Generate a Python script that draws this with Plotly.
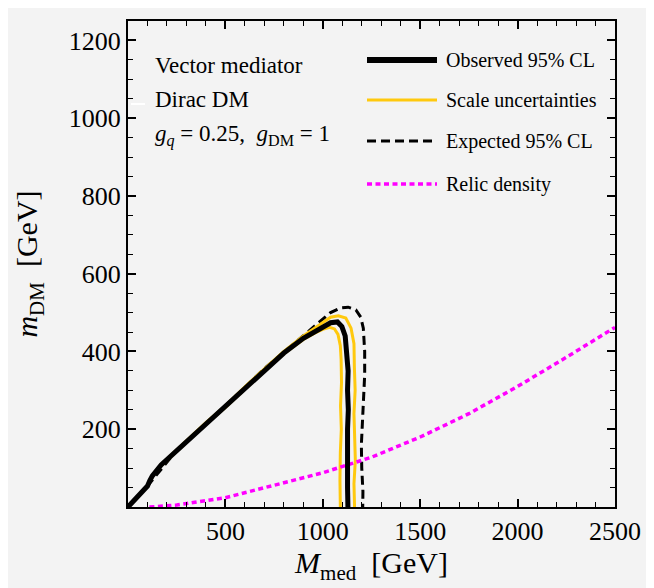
import plotly.graph_objects as go

# ---------------- data ----------------
obs_M = [0, 50, 100, 112, 125, 170, 250, 400, 500, 600, 700, 800, 900, 960, 1000, 1040, 1075, 1098, 1115, 1124, 1130, 1127, 1131, 1127, 1125, 1129, 1127, 1129]
obs_m = [0, 27, 54, 68, 80, 108, 145, 215, 258, 306, 352, 396, 434, 452, 463, 474, 476, 464, 440, 400, 350, 300, 250, 200, 150, 100, 50, 0]

scale_lo_M = [0, 50, 100, 112, 125, 170, 250, 400, 500, 600, 700, 800, 900, 960, 1000, 1035, 1060, 1078, 1090, 1094, 1096, 1091, 1095, 1090, 1088, 1090]
scale_lo_m = [0, 26, 53, 66, 78, 106, 143, 213, 256, 304, 350, 394, 431, 448, 457, 462, 458, 444, 415, 380, 320, 260, 200, 140, 70, 0]

scale_hi_M = [0, 50, 100, 112, 125, 170, 250, 400, 500, 600, 700, 800, 900, 960, 1000, 1040, 1080, 1118, 1145, 1160, 1162, 1166, 1160, 1164, 1167, 1160, 1163]
scale_hi_m = [0, 28, 55, 69, 81, 109, 146, 217, 260, 309, 355, 400, 440, 460, 474, 488, 492, 486, 460, 420, 360, 300, 240, 180, 120, 60, 0]

exp_M = [0, 100, 250, 500, 700, 900, 980, 1040, 1090, 1130, 1170, 1195, 1208, 1215, 1215, 1210, 1205, 1198, 1200, 1206, 1205]
exp_m = [0, 54, 146, 260, 356, 442, 476, 500, 512, 514, 507, 488, 460, 400, 340, 280, 220, 160, 100, 40, 0]

relic_M = [110, 250, 500, 750, 1000, 1250, 1500, 1750, 2000, 2250, 2500]
relic_m = [0, 5, 24, 55, 88, 128, 180, 240, 310, 385, 462]

x_ticks = [500, 1000, 1500, 2000, 2500]
x_labels = ["500", "1000", "1500", "2000", "2500"]
y_ticks = [200, 400, 600, 800, 1000, 1200]
y_labels = ["200", "400", "600", "800", "1000", "1200"]

legend_names = ["Observed 95% CL", "Scale uncertainties", "Expected 95% CL", "Relic density"]
info_lines = ["Vector mediator", "Dirac DM",
              "<i>g</i><sub><i>q</i></sub> = 0.25,  <i>g</i><sub>DM</sub> = 1"]

# ---------------- styles ----------------
BG = "#f3f3f3"
FONT = "Liberation Serif"
YELLOW = "#ffc90e"
MAGENTA = "#ff00ff"
styles = [
    dict(color="black", width=5, dash="solid"),
    dict(color=YELLOW, width=3, dash="solid"),
    dict(color="black", width=3, dash="9px,5px"),
    dict(color=MAGENTA, width=3.5, dash="5px,3.5px"),
]

fig = go.Figure()
fig.add_trace(go.Scatter(x=exp_M, y=exp_m, mode="lines", line=styles[2],
                         name=legend_names[2], showlegend=False))
fig.add_trace(go.Scatter(x=scale_lo_M, y=scale_lo_m, mode="lines", line=styles[1],
                         name=legend_names[1], showlegend=False))
fig.add_trace(go.Scatter(x=scale_hi_M, y=scale_hi_m, mode="lines", line=styles[1],
                         name=legend_names[1], showlegend=False))
fig.add_trace(go.Scatter(x=relic_M, y=relic_m, mode="lines", line=styles[3],
                         name=legend_names[3], showlegend=False))
fig.add_trace(go.Scatter(x=obs_M, y=obs_m, mode="lines", line=styles[0],
                         name=legend_names[0], showlegend=False))

# plot-area pixel helpers (for legend/labels placement)
L, R, T, B = 120, 47, 13, 89
W, H = 654, 588
pw, ph = W - L - R, H - T - B


def px(x):
    return (x - L) / pw


def py(y):
    return (H - B - y) / ph


shapes = []
annotations = []
rows_y = [52, 92, 133, 176]
for i, (name, st) in enumerate(zip(legend_names, styles)):
    shapes.append(dict(type="line", xref="paper", yref="paper",
                       x0=px(359), x1=px(429), y0=py(rows_y[i]), y1=py(rows_y[i]),
                       line=dict(color=st["color"], width=st["width"] + (1 if i == 0 else 0),
                                 dash=st["dash"])))
    annotations.append(dict(xref="paper", yref="paper", x=px(436), y=py(rows_y[i]),
                            text=name, showarrow=False, xanchor="left", yanchor="middle",
                            font=dict(family=FONT, size=20, color="black")))

info_y = [57, 92, 128]
for t, yy in zip(info_lines, info_y):
    annotations.append(dict(xref="paper", yref="paper", x=px(145), y=py(yy),
                            text=t, showarrow=False, xanchor="left", yanchor="middle",
                            font=dict(family=FONT, size=23, color="black")))

# small white mark near the left axis
shapes.append(dict(type="line", xref="paper", yref="paper", x0=px(123), x1=px(137),
                   y0=py(96), y1=py(96), line=dict(color="white", width=2)))

axis_common = dict(
    showline=True, linecolor="black", linewidth=2, mirror="ticks",
    ticks="inside", ticklen=8, tickwidth=1.5, tickcolor="black",
    showgrid=False, zeroline=False, automargin=False,
    tickfont=dict(family=FONT, size=26, color="black"),
)

fig.update_layout(
    width=W, height=H,
    margin=dict(l=L, r=R, t=T, b=B, autoexpand=False),
    paper_bgcolor=BG, plot_bgcolor=BG,
    showlegend=False,
    shapes=shapes, annotations=annotations,
    xaxis=dict(range=[0, 2500], tickmode="array", tickvals=x_ticks, ticktext=x_labels,
               minor=dict(tickmode="linear", tick0=0, dtick=100, ticks="inside",
                          ticklen=5, tickwidth=1.2, tickcolor="black"),
               title=dict(text="<i>M</i><sub>med</sub>  [GeV]",
                          font=dict(family=FONT, size=30, color="black"), standoff=6),
               **axis_common),
    yaxis=dict(range=[0, 1250], tickmode="array", tickvals=y_ticks, ticktext=y_labels,
               minor=dict(tickmode="linear", tick0=0, dtick=50, ticks="inside",
                          ticklen=5, tickwidth=1.2, tickcolor="black"),
               title=dict(text="<i>m</i><sub>DM</sub>  [GeV]",
                          font=dict(family=FONT, size=30, color="black"), standoff=22),
               **axis_common),
)

fig.write_html("out.html")
